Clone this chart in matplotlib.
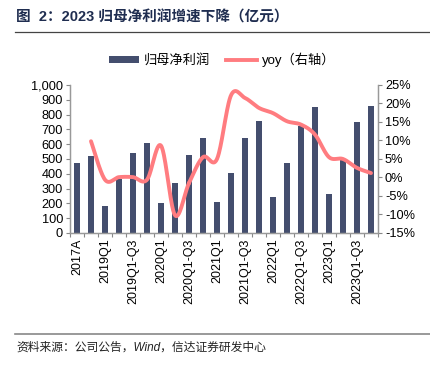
import numpy as np
import matplotlib
matplotlib.use("Agg")
import matplotlib.pyplot as plt
from matplotlib.ticker import FuncFormatter, MultipleLocator, FixedLocator
from matplotlib.patches import Patch
from matplotlib.lines import Line2D

plt.rcParams['font.family'] = ['Liberation Sans', 'Noto Sans CJK SC', 'DejaVu Sans']

categories = ["2017A", "2018A", "2019Q1", "2019H1", "2019Q1-Q3", "2019A",
              "2020Q1", "2020H1", "2020Q1-Q3", "2020A", "2021Q1", "2021H1",
              "2021Q1-Q3", "2021A", "2022Q1", "2022H1", "2022Q1-Q3", "2022A",
              "2023Q1", "2023H1", "2023Q1-Q3", "2023E"]
shown_labels = ["2017A", "2019Q1", "2019Q1-Q3", "2020Q1", "2020Q1-Q3", "2021Q1",
                "2021Q1-Q3", "2022Q1", "2022Q1-Q3", "2023Q1", "2023Q1-Q3"]
profit = [475, 521, 183, 362, 543, 606, 200, 336, 527, 640, 208, 407,
          644, 759, 245, 471, 725, 849, 263, 491, 752, 860]
yoy = [None, 9.8, -0.6, 0.1, 0.1, -0.6, 8.6, -10.2, -1.5, 5.5, 5.0, 22.2,
       21.5, 18.8, 17.4, 15.2, 14.3, 11.6, 5.5, 5.0, 2.6, 1.2]

BAR = "#444e6e"
LINE = "#ff7c80"

fig = plt.figure(figsize=(4.31, 3.71), dpi=100)
ax = fig.add_axes([70/431, 1-233/371, (378-70)/431, (233-85)/371])
ax2 = ax.twinx()

x = np.arange(len(categories))
ax.bar(x, profit, width=0.38, color=BAR, zorder=2)

# smoothed line (Catmull-Rom rendering through the data points)
pts_x = np.array([i for i, v in enumerate(yoy) if v is not None], dtype=float)
pts_y = np.array([v for v in yoy if v is not None], dtype=float)
P = np.column_stack([pts_x, pts_y])
Pext = np.vstack([P[0], P, P[-1]])
sx, sy = [], []
for i in range(1, len(Pext) - 2):
    p0, p1, p2, p3 = Pext[i-1], Pext[i], Pext[i+1], Pext[i+2]
    t = np.linspace(0, 1, 30)[:, None]
    c = 0.5 * ((2*p1) + (-p0 + p2)*t + (2*p0 - 5*p1 + 4*p2 - p3)*t**2 + (-p0 + 3*p1 - 3*p2 + p3)*t**3)
    sx.extend(c[:, 0]); sy.extend(c[:, 1])
ax2.plot(sx, sy, color=LINE, lw=2.8, solid_capstyle='round', zorder=3)
ax2.set_zorder(ax.get_zorder() + 1)
ax2.patch.set_visible(False)

ax.set_xlim(-0.5, len(categories) - 0.5)
ax.set_ylim(0, 1000)
ax2.set_ylim(-15, 25)
ax.yaxis.set_major_locator(MultipleLocator(100))
ax.yaxis.set_major_formatter(FuncFormatter(lambda v, p: f"{int(v):,}"))
ax2.yaxis.set_major_locator(MultipleLocator(5))
ax2.yaxis.set_major_formatter(FuncFormatter(lambda v, p: f"{int(v)}%"))

ax.xaxis.set_major_locator(FixedLocator(x[::2]))
ax.set_xticklabels(shown_labels, rotation=90, fontsize=9)
ax.xaxis.set_minor_locator(FixedLocator(np.arange(-0.5, len(categories), 1)))
ax.tick_params(axis='x', which='major', length=0, pad=4)
ax.tick_params(axis='x', which='minor', length=3, color='#888888', width=0.8)
ax.tick_params(axis='y', labelsize=9.2, length=3, color='#888888', width=0.8, pad=2)
ax2.tick_params(axis='y', labelsize=9.2, length=3, color='#888888', width=0.8, pad=2)

for a in (ax, ax2):
    a.spines['top'].set_visible(False)
    for s in ('left', 'right', 'bottom'):
        a.spines[s].set_color('#999999')
        a.spines[s].set_linewidth(0.9)

handles = [Patch(facecolor=BAR, edgecolor='none'), Line2D([0], [0], color=LINE, lw=2.8)]
fig.legend(handles, ["归母净利润", "yoy（右轴）"], loc='center', bbox_to_anchor=(222/431, 1-60/371),
           ncol=2, frameon=False, fontsize=9.5, handlelength=2.3, handleheight=0.5,
           columnspacing=1.2, handletextpad=0.4)

fig.text(16/431, 1-17/371, "图  2：2023 归母净利润增速下降（亿元）", fontsize=10.5, fontweight='bold',
         color='#1f2d50', va='center', ha='left')
fig.add_artist(Line2D([15/431, 430/431], [1-32/371, 1-32/371], color='#444444', lw=0.9))
fig.add_artist(Line2D([15/431, 430/431], [1-334/371, 1-334/371], color='#888888', lw=1.2))
fig.text(16/431, 1-348/371, "资料来源：公司公告，Wind，信达证券研发中心", fontsize=8.5, style='italic',
         color='#222222', va='center', ha='left')

fig.savefig("out.png", dpi=100)
